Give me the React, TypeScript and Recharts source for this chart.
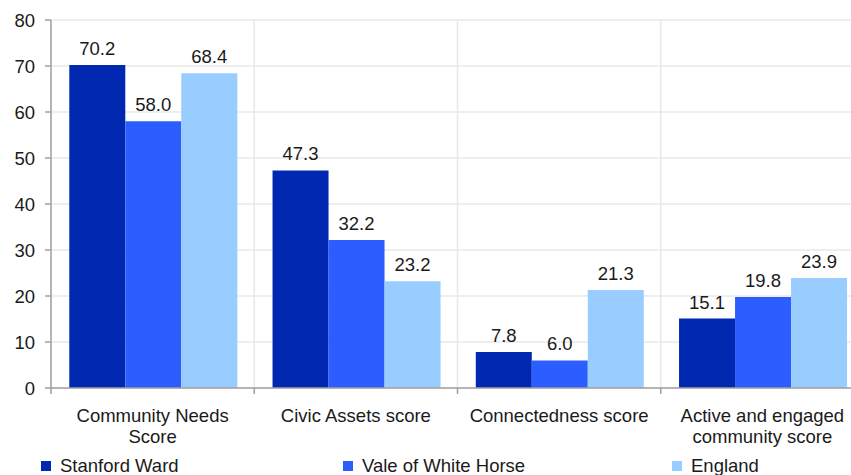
import React from "react";
import { BarChart, Bar, XAxis, YAxis, CartesianGrid, Legend, LabelList } from "recharts";

const categories = ["Community Needs\nScore", "Civic Assets score", "Connectedness score", "Active and engaged\ncommunity score"];
const stanfordWard = [70.2, 47.3, 7.8, 15.1];
const valeOfWhiteHorse = [58.0, 32.2, 6.0, 19.8];
const england = [68.4, 23.2, 21.3, 23.9];
const yTicks = [0, 10, 20, 30, 40, 50, 60, 70, 80];
const boundaryTicks = [0, 1, 2, 3, 4];

const seriesNames = ["Stanford Ward", "Vale of White Horse", "England"];
const colors = ["#0028B0", "#2C5EFF", "#99CCFF"];

const data = categories.map((c, i) => ({
  name: c,
  pos: i + 0.5,
  s: stanfordWard[i],
  v: valeOfWhiteHorse[i],
  e: england[i],
}));

const FONT = "'Liberation Sans', Arial, sans-serif";

const CatTick = (props: any) => {
  const { x, y, payload } = props;
  const lines = String(payload.value).split("\n");
  return (
    <text x={x} y={y} textAnchor="middle" fontSize={18.5} fontFamily={FONT} fill="#1a1a1a">
      {lines.map((l, i) => (
        <tspan key={i} x={x} dy={i === 0 ? 28 : 21}>
          {l}
        </tspan>
      ))}
    </text>
  );
};

const LegendContent = () => {
  const lefts = [41, 343, 672];
  return (
    <div style={{ position: "relative", height: 30, width: 870, fontFamily: FONT, fontSize: 18.5, color: "#1a1a1a" }}>
      {seriesNames.map((n, i) => (
        <div key={n} style={{ position: "absolute", left: lefts[i], top: 11, display: "flex", alignItems: "center", whiteSpace: "nowrap" }}>
          <span style={{ display: "inline-block", width: 10, height: 10, background: colors[i], marginRight: 9 }} />
          <span style={{ lineHeight: "20px" }}>{n}</span>
        </div>
      ))}
    </div>
  );
};

export default function App() {
  return (
    <div style={{ position: "fixed", top: 0, left: 0, width: 851, height: 475, overflow: "hidden", background: "#fff" }}>
      <BarChart
        width={870}
        height={475}
        data={data}
        margin={{ top: 20, right: 6, left: 0, bottom: 0 }}
        barCategoryGap="9%"
        barGap={0}
      >
        <CartesianGrid xAxisId="b" stroke="#E8E8E8" strokeWidth={1.5} />
        <XAxis
          xAxisId="b"
          dataKey="pos"
          type="number"
          domain={[0, 4]}
          ticks={boundaryTicks}
          height={6}
          tickSize={6}
          tickFormatter={() => ""}
          tick={{ fontSize: 1 }}
          stroke="#A0A0A0"
          strokeWidth={1.5}
          allowDataOverflow
        />
        <XAxis
          xAxisId="cat"
          dataKey="name"
          tick={<CatTick />}
          tickLine={false}
          axisLine={false}
          tickSize={0}
          tickMargin={0}
          height={51}
          interval={0}
        />
        <YAxis
          domain={[0, 80]}
          ticks={yTicks}
          width={51}
          tickSize={6}
          tickMargin={10}
          stroke="#A0A0A0"
          strokeWidth={1.5}
          tick={{ fontSize: 18.5, fontFamily: FONT, fill: "#1a1a1a" }}
        />
        <Legend verticalAlign="bottom" height={30} content={<LegendContent />} />
        {(["s", "v", "e"] as const).map((k, i) => (
          <Bar key={k} xAxisId="cat" dataKey={k} name={seriesNames[i]} fill={colors[i]} isAnimationActive={false}>
            <LabelList
              dataKey={k}
              position="top"
              offset={10}
              formatter={(v: any) => Number(v).toFixed(1)}
              style={{ fontSize: 18.5, fontFamily: FONT, fill: "#1a1a1a" }}
            />
          </Bar>
        ))}
      </BarChart>
    </div>
  );
}
